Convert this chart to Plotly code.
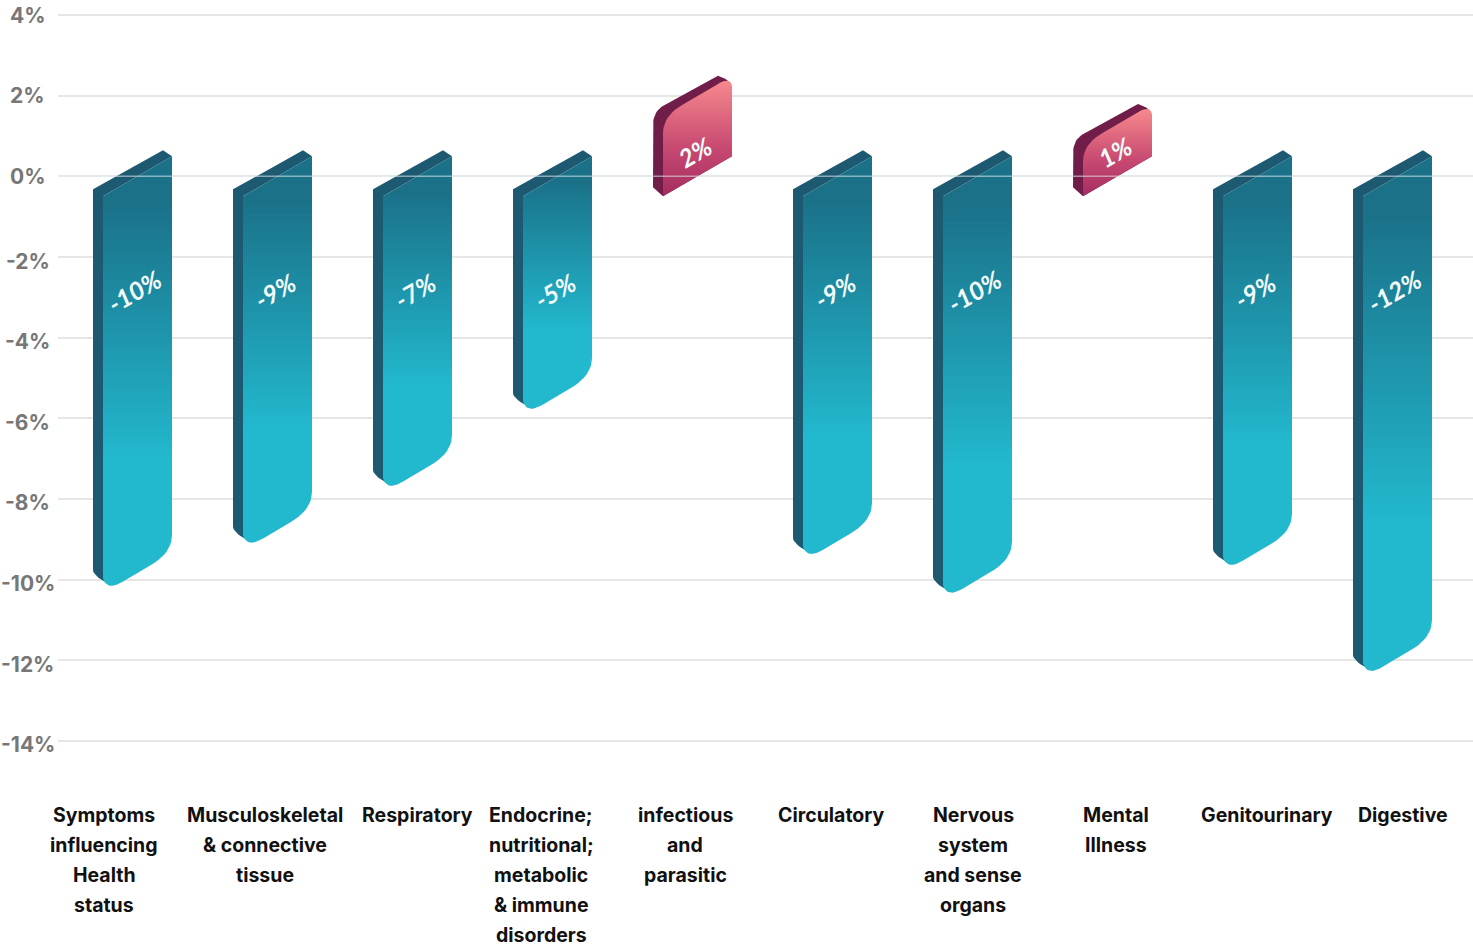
import plotly.graph_objects as go

# Change by diagnostic category, in percent
categories = [
    ["Symptoms", "influencing", "Health", "status"],
    ["Musculoskeletal", "& connective", "tissue"],
    ["Respiratory"],
    ["Endocrine;", "nutritional;", "metabolic", "& immune", "disorders"],
    ["infectious", "and", "parasitic"],
    ["Circulatory"],
    ["Nervous", "system", "and sense", "organs"],
    ["Mental", "Illness"],
    ["Genitourinary"],
    ["Digestive"],
]
values = [-9.83, -8.76, -7.35, -5.44, 2.0, -9.04, -10.0, 1.3, -9.31, -11.94]
y_ticks = [4, 2, 0, -2, -4, -6, -8, -10, -12, -14]

# Canvas geometry
WIDTH, HEIGHT = 1473, 946
M_L, M_T, M_B = 58, 7, 197
BAR_STEP = 140.0
FIRST_BAR = 137.5
X_RANGE = [(M_L - FIRST_BAR) / BAR_STEP, (WIDTH - FIRST_BAR) / BAR_STEP]
Y_RANGE = [-14.2, 4.2]
PX_PER_PCT = (HEIGHT - M_T - M_B) / (Y_RANGE[1] - Y_RANGE[0])

# Horizontal centres of the wrapped category captions, in pixels
CAPTION_CENTRES = [104, 265, 417, 541, 685, 831, 973, 1116, 1267, 1403]
CAPTION_TOP, CAPTION_STEP = 815, 30

HALF_W, RISE = 34.5, 20.0  # half width and half rise of the slanted front face


def quad(p0, c, p1, n=10):
    pts = []
    for i in range(n + 1):
        t = i / n
        pts.append(((1 - t) ** 2 * p0[0] + 2 * t * (1 - t) * c[0] + t ** 2 * p1[0],
                    (1 - t) ** 2 * p0[1] + 2 * t * (1 - t) * c[1] + t ** 2 * p1[1]))
    return pts


def polygon(i, anchor_pts):
    """Pixel offsets around (bar i, value) to data coordinates."""
    xs, ys = [], []
    for dx, value, dy in anchor_pts:
        xs.append(i + dx / BAR_STEP)
        ys.append(value - dy / PX_PER_PCT)
    return xs + xs[:1], ys + ys[:1]


def anchored(value, pts):
    return [(x, value, y) for x, y in pts]


def negative_bar(v):
    top = anchored(0, [(-HALF_W, RISE), (HALF_W, -RISE)])
    corner = quad((HALF_W, -38), (HALF_W, -RISE), (13, -7.5))
    tip_left = quad((-14, 8.5), (-31, 19), (-HALF_W, 5))
    front = top + anchored(v, corner + tip_left)
    side_end = quad((-24, 13.5), (-44.5, 4), (-44.5, -3))
    side = (anchored(0, [(-44.5, 13), (25.5, -26), (HALF_W, -RISE), (-HALF_W, RISE)])
            + anchored(v, [(-HALF_W, 5)] + side_end))
    return front, side


def positive_bar(v):
    base = anchored(0, [(-HALF_W, RISE), (HALF_W, -RISE)])
    right = quad((HALF_W, -7), (HALF_W, -RISE), (21, -12))
    left = quad((-15, 9), (-HALF_W, RISE), (-HALF_W, 38))
    front = base + anchored(v, right + left)
    side_top = quad((-44.5, 30), (-44.5, 17), (-36, 11))
    side = (anchored(0, [(HALF_W, -RISE), (-HALF_W, RISE), (-44.5, 11)])
            + anchored(v, side_top + [(20.5, -20)] + quad((20.5, -20), (HALF_W, -16), (HALF_W, -6))))
    return front, side


fig = go.Figure()

for i, v in enumerate(values):
    front, side = negative_bar(v) if v < 0 else positive_bar(v)
    sx, sy = polygon(i, side)
    fx, fy = polygon(i, front)
    side_color = "#1d5a72" if v < 0 else "#701d49"
    fig.add_trace(go.Scatter(x=sx, y=sy, mode="lines", line=dict(width=0), fill="toself",
                             fillcolor=side_color, hoverinfo="skip", showlegend=False))
    if v < 0:
        gradient = dict(type="vertical", start=v, stop=0.6,
                        colorscale=[[0, "#22b8ce"], [0.27, "#22b8ce"], [0.88, "#1a7188"], [1, "#1a7188"]])
    else:
        gradient = dict(type="vertical", start=-0.5, stop=v + 0.3,
                        colorscale=[[0, "#a42c60"], [0.45, "#c94b72"], [1, "#f4868c"]])
    fig.add_trace(go.Scatter(x=fx, y=fy, mode="lines", line=dict(width=0), fill="toself",
                             fillgradient=gradient, hoverinfo="skip", showlegend=False))

annotations = []

# Value labels, slanted along the bar tops
for i, v in enumerate(values):
    annotations.append(dict(x=i - 3 / BAR_STEP, y=-2.85 if v < 0 else 0.6, xref="x", yref="y",
                            text=f"{v:.0f}%", showarrow=False, textangle=-30,
                            font=dict(family="Lato", size=25, color="#f4fbfc", style="italic", weight=700)))

# Y axis labels are centred in the left gutter
plot_w = WIDTH - M_L
for t in y_ticks:
    annotations.append(dict(x=(28 - M_L) / plot_w, y=t, xref="paper", yref="y", xanchor="center",
                            text=f"{t}%", showarrow=False, yshift=-4 if t < 0 else 0,
                            font=dict(family="Inter", size=21, color="#777777", weight=700)))

# Category captions, one annotation per wrapped line
plot_h = HEIGHT - M_T - M_B
for cx, lines in zip(CAPTION_CENTRES, categories):
    for n, line in enumerate(lines):
        annotations.append(dict(x=(cx - FIRST_BAR) / BAR_STEP, xref="x",
                                y=1 - (CAPTION_TOP + n * CAPTION_STEP - M_T) / plot_h,
                                yref="paper", yanchor="middle", text=line, showarrow=False,
                                font=dict(family="Inter", size=19.5, color="#111111", weight=700)))

fig.update_layout(
    width=WIDTH, height=HEIGHT,
    margin=dict(l=M_L, r=0, t=M_T, b=M_B),
    paper_bgcolor="white", plot_bgcolor="white",
    showlegend=False,
    annotations=annotations,
    shapes=[dict(type="line", xref="paper", x0=0, x1=1, yref="y", y0=0, y1=0, layer="above",
                 line=dict(color="rgba(226,236,238,0.55)", width=1.5))],
    xaxis=dict(range=X_RANGE, visible=False, fixedrange=True),
    yaxis=dict(range=Y_RANGE, tickvals=y_ticks, showticklabels=False, ticks="",
               showgrid=True, gridcolor="#e6e6e6", gridwidth=2, zeroline=False,
               showline=False, fixedrange=True),
)

fig.write_html("out.html", config={"displayModeBar": False})
